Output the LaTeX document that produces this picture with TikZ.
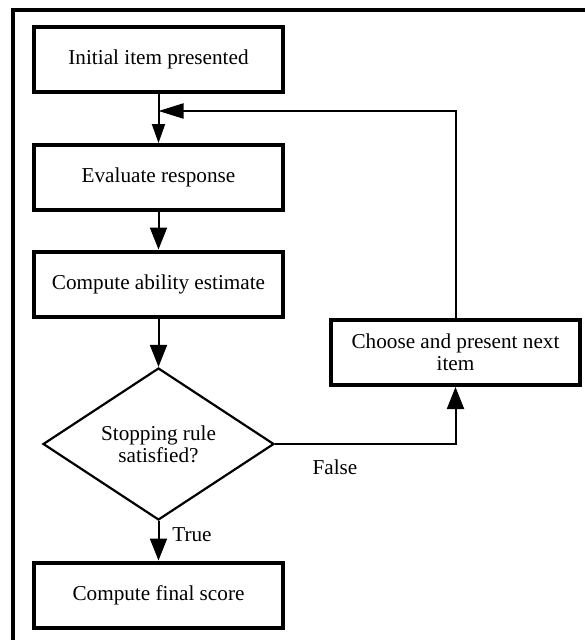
\documentclass[tikz,border=0pt]{standalone}
\usepackage{fontspec}
\setmainfont{Liberation Serif}
\usetikzlibrary{shapes.geometric,arrows.meta}
\begin{document}
\begin{tikzpicture}[x=1pt,y=-1pt,
  every node/.style={font=\fontsize{21.2}{22}\selectfont},
  boxnode/.style={draw,line width=4pt,minimum width=249pt,minimum height=65pt,inner sep=0pt,align=center},
  decnode/.style={draw,shape=diamond,line width=2.2pt,aspect=1.52,minimum width=231pt,minimum height=152pt,inner sep=0pt,align=center},
  conn/.style={line width=2pt},
  tipA/.style={-{Triangle[length=19pt,width=13pt]}},
  tipB/.style={-{Triangle[length=22pt,width=17pt]}},
  tipC/.style={-{Triangle[length=25pt,width=15pt]}},
  lbl/.style={inner sep=0pt}]
\useasboundingbox (0,0) rectangle (585,640);
% frame
\draw[line width=4pt] (12.5,660) -- (12.5,9.5) -- (600,9.5);
% nodes
\node[boxnode] (init) at (158.5,59.5) {Initial item presented};
\node[boxnode] (eval) at (158.5,177.5) {Evaluate response};
\node[boxnode] (abil) at (158.5,284) {Compute ability estimate};
\node[decnode] (dec) at (158.5,444) {Stopping rule\\satisfied?};
\node[boxnode] (final) at (158.5,595) {Compute final score};
\node[boxnode] (choose) at (455.5,352.5) {Choose and present next\\item};
\coordinate (fb) at (158.5,111);
% connectors
\draw[conn,tipA] (init.south) -- (eval.north);
\draw[conn,tipB] (eval.south) -- (abil.north);
\draw[conn,tipB] (abil.south) -- (dec.north);
\draw[conn,tipB] (dec.south) -- (final.north);
\draw[conn,tipB] (dec.east) -| (choose.south);
\draw[conn,tipC] (choose.north) |- (fb);
% labels
\node[lbl] (truelbl) at (192,535) {True};
\node[lbl] (falselbl) at (335,467) {False};
\end{tikzpicture}
\end{document}
